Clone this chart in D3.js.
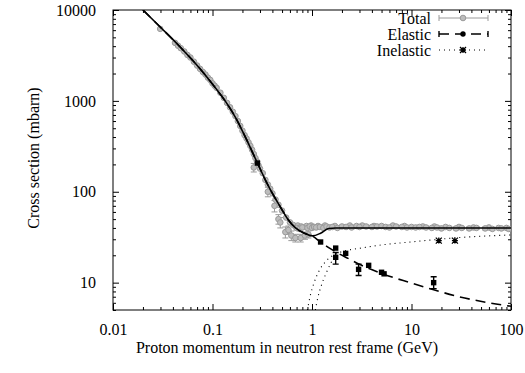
<!DOCTYPE html>
<html>
<head>
<meta charset="utf-8">
<script src="https://cdn.jsdelivr.net/npm/d3@7"></script>
<style>
  body { margin: 0; background: #fff; }
  svg text { font-family: "Liberation Serif", "Times New Roman", Times, "DejaVu Serif", serif; font-size: 16px; fill: #000; }
</style>
</head>
<body>
<div id="chart"></div>
<script>
// chart size
var w = 525,
    h = 373,
    serif = "'Liberation Serif', 'Times New Roman', Times, 'DejaVu Serif', serif";

// ---- data: [momentum GeV, cross section mbarn] ----
var xTicks = [0.01, 0.1, 1, 10, 100];
var yTicks = [10, 100, 1000, 10000];

var totalCurve = [[0.02,10000],[0.0298,6500],[0.0473,3920],[0.0753,2245],[0.107,1390],[0.134,1000],
    [0.17,660],[0.214,400],[0.283,207],[0.364,116],[0.481,68],[0.579,49],[0.683,40],[0.84,35],
    [1.01,32.7],[1.22,35],[1.47,39.5],[1.73,40],[5,40],[20,40],[100,40]];

var elasticCurve = [[0.02,10000],[0.0298,6500],[0.0473,3920],[0.0753,2245],[0.107,1390],[0.134,1000],
    [0.17,660],[0.214,400],[0.283,207],[0.364,116],[0.481,68],[0.579,49],[0.683,40],[0.84,35],
    [1.01,32.5],[1.22,28],[1.5,24],[1.81,21.2],[2.3,18.5],[3.08,15.7],[5,12.6],[10,9.9],
    [16.4,8.4],[30,7.0],[60,6.0],[100,5.5]];

var inelasticCurve = [[0.9,5],[0.955,7],[1.05,10],[1.2,14],[1.4,17.5],[1.7,20.5],[2.2,22.5],
    [3.1,24],[5,26],[9.8,28],[31,31.4],[100,33.5]];
var inelasticCurve2 = [[1.08,5],[1.15,7],[1.25,9.5],[1.4,13],[1.55,16.5],[1.75,20.5]];

// total data, dense band (no visible error bars)
var totalBand = [[0.0298,6200],[0.042,4350],[0.045,4050],[0.048,3800],[0.052,3500],[0.056,3200],
    [0.06,3000],[0.065,2700],[0.07,2450],[0.075,2250],[0.08,2080],[0.085,1950],[0.09,1800],
    [0.095,1700],[0.1,1560],[0.105,1470],[0.11,1390],[0.12,1230],[0.13,1080],[0.14,950],[0.15,850],
    [0.16,760],[0.17,680],[0.18,600],[0.19,530],[0.2,470],[0.21,420],[0.22,385],[0.23,350],
    [0.24,320],[0.25,290],[0.26,260],[0.27,235],[0.28,215],[0.29,195],[0.3,180],[0.32,160],
    [0.34,135],[0.36,120],[0.38,108],[0.4,96],[0.43,82],[0.46,72],[0.5,62],[0.55,52],[0.6,46],
    [0.65,43],[0.72,42.5],[0.78,41.5],[0.88,42],[0.98,42.5],[1.15,42],[1.35,42.5],[1.7,42],
    [2.4,42.5],[3.2,42.5],[4.2,42],[6.5,42.5],[8.5,42],[13,41.5],[17,41.5],[22,41],[30,41],
    [42,40.5],[60,40.5],[75,40],[90,40]];

// total data with error bars: [p, sigma, low, high]
var totalErr = [[0.26,185,165,205],[0.36,100,88,112],[0.42,70,60,80],[0.46,50,44,56],
    [0.48,46,40,52],[0.54,36,31,41],[0.58,38,34,42],[0.62,33,29,37],[0.68,31,28,34],
    [0.77,31,28,34],[0.85,33,30,36],[0.92,34,31,37],
    [0.7,40,38,42],[0.75,39,37,41],[0.8,40.5,39,42],[0.9,40,38.5,41.5],[0.95,41.5,40,43],
    [1.0,40,38.5,41.5],[1.05,41,39.5,42.5],[1.1,40.5,39,42],[1.2,41,39.5,42.5],[1.3,40,38.5,41.5],
    [1.4,41.5,40,43],[1.5,40.5,39,42],[1.6,41,39.5,42.5],[1.8,40,38.5,41.5],[2.0,41.5,40,43],
    [2.2,41,39.5,42.5],[2.5,40.5,39,42],[2.8,42,40.5,43.5],[3.0,41,39.5,42.5],[3.5,41.5,40,43],
    [4.0,41,39.5,42.5],[4.5,41.5,40,43],[5,42,40.5,43.5],[5.5,41,39.5,42.5],[6,40.5,39,42],
    [7,41.5,40,43],[8,41,39.5,42.5],[9,40.5,39,42],[10,41,39.5,42.5],[11,40.5,39,42],
    [12,41,39.5,42.5],[14,40.5,39,42],[16,40,38.5,41.5],[18,40.5,39,42],[20,39.5,38,41],
    [24,40,38.5,41.5],[28,39.5,38,41],[32,40,38.5,41.5],[38,39.5,38,41],[45,40,38.5,41.5],
    [55,39.5,38,41],[65,39,37.5,40.5],[80,39.5,38,41],[95,39,37.5,40.5]];

// one total point with a wide momentum bin: [p, sigma, pLow, pHigh]
var totalWide = [[1.0,40,0.64,1.5]];

// elastic data: [p, sigma, low, high]
var elasticData = [[0.283,207,207,207],[1.22,28,28,28],[1.73,24,24,24],[1.73,19,16,21.5],
    [2.18,21,21,21],[2.94,14,12,16],[3.71,15.5,15.5,15.5],[5.0,13,13,13],[5.3,12.5,12.5,12.5],
    [16.7,10,8.6,11.6]];

// inelastic data
var inelasticData = [[18.8,29],[27.3,29]];

var legendNames = ["Total", "Elastic", "Inelastic"];

// ---- scales ----
var xScale = d3.scaleLog().domain([0.01, 100]).range([113, 511]);
var yScale = d3.scaleLog().domain([5, 10000]).range([310, 10]);

var svg = d3.select("#chart").append("svg")
    .attr("width", w)
    .attr("height", h)
    .attr("font-family", serif);

// minor ticks for log axes
var xMinor = [], yMinor = [];
[0.01, 0.1, 1, 10].forEach(function (d) {
    for (var k = 2; k < 10; k++) xMinor.push(d * k);
});
[1, 10, 100, 1000].forEach(function (d) {
    for (var k = 2; k < 10; k++) if (d * k >= 5) yMinor.push(d * k);
});

function drawAxis(axis, tr) {
    var g = svg.append("g").attr("transform", tr).call(axis);
    g.attr("font-family", serif).attr("font-size", 16);
    g.select(".domain").remove();
    g.selectAll("line").attr("stroke", "#000");
    g.selectAll("text").attr("fill", "#000");
    return g;
}

// bottom / top
drawAxis(d3.axisBottom(xScale).tickValues(xTicks).tickSize(-6).tickPadding(14)
    .tickFormat(function (d) { return d >= 1 ? d3.format("d")(d) : String(d); }), "translate(0,310)");
drawAxis(d3.axisBottom(xScale).tickValues(xMinor).tickSize(-3).tickFormat(""), "translate(0,310)");
drawAxis(d3.axisTop(xScale).tickValues(xTicks).tickSize(-6).tickFormat(""), "translate(0,10)");
drawAxis(d3.axisTop(xScale).tickValues(xMinor).tickSize(-3).tickFormat(""), "translate(0,10)");
// left / right
drawAxis(d3.axisLeft(yScale).tickValues(yTicks).tickSize(-6).tickPadding(17)
    .tickFormat(d3.format("d")), "translate(113,0)");
drawAxis(d3.axisLeft(yScale).tickValues(yMinor).tickSize(-3).tickFormat(""), "translate(113,0)");
drawAxis(d3.axisRight(yScale).tickValues(yTicks).tickSize(-6).tickFormat(""), "translate(511,0)");
drawAxis(d3.axisRight(yScale).tickValues(yMinor).tickSize(-3).tickFormat(""), "translate(511,0)");

svg.append("rect")
    .attr("x", 113).attr("y", 10)
    .attr("width", 511 - 113).attr("height", 300)
    .attr("fill", "none").attr("stroke", "#000").attr("stroke-width", 1);

// axis titles
svg.append("text")
    .attr("x", 287).attr("y", 353)
    .attr("text-anchor", "middle")
    .text("Proton momentum in neutron rest frame (GeV)");
svg.append("text")
    .attr("transform", "translate(39,158) rotate(-90)")
    .attr("text-anchor", "middle")
    .text("Cross section (mbarn)");

var plot = svg.append("g");
svg.append("defs").append("clipPath").attr("id", "clip")
    .append("rect").attr("x", 113).attr("y", 10).attr("width", 398).attr("height", 300);
plot.attr("clip-path", "url(#clip)");

var grey = "#9a9a9a";

// total data: error bars then circles
plot.selectAll(".terr")
    .data(totalErr)
    .enter()
    .append("path")
    .attr("d", function (d) {
        var x = xScale(d[0]), y0 = yScale(d[2]), y1 = yScale(d[3]);
        return "M" + x + "," + y0 + "V" + y1 + "M" + (x - 3) + "," + y0 + "h6M" + (x - 3) + "," + y1 + "h6";
    })
    .attr("stroke", grey).attr("fill", "none").attr("stroke-width", 1);

plot.selectAll(".twide")
    .data(totalWide)
    .enter()
    .append("line")
    .attr("x1", function (d) { return xScale(d[2]); })
    .attr("x2", function (d) { return xScale(d[3]); })
    .attr("y1", function (d) { return yScale(d[1]); })
    .attr("y2", function (d) { return yScale(d[1]); })
    .attr("stroke", "#777").attr("stroke-width", 1.2);

plot.selectAll(".tband")
    .data(totalBand.concat(totalErr))
    .enter()
    .append("circle")
    .attr("cx", function (d) { return xScale(d[0]); })
    .attr("cy", function (d) { return yScale(d[1]); })
    .attr("r", 2.8)
    .attr("fill", "#bdbdbd")
    .attr("stroke", grey)
    .attr("stroke-width", 1);

// curves
var line = d3.line()
    .x(function (d) { return xScale(d[0]); })
    .y(function (d) { return yScale(d[1]); })
    .curve(d3.curveMonotoneX);

plot.append("path").datum(inelasticCurve).attr("d", line)
    .attr("fill", "none").attr("stroke", "#000").attr("stroke-width", 1.1)
    .attr("stroke-dasharray", "1,4");
plot.append("path").datum(inelasticCurve2).attr("d", line)
    .attr("fill", "none").attr("stroke", "#000").attr("stroke-width", 1.1)
    .attr("stroke-dasharray", "1,4");
plot.append("path").datum(elasticCurve).attr("d", line)
    .attr("fill", "none").attr("stroke", "#000").attr("stroke-width", 1.6)
    .attr("stroke-dasharray", "10,6");
plot.append("path").datum(totalCurve).attr("d", line)
    .attr("fill", "none").attr("stroke", "#000").attr("stroke-width", 1.6);

// elastic data
plot.selectAll(".eerr")
    .data(elasticData.filter(function (d) { return d[2] !== d[3]; }))
    .enter()
    .append("path")
    .attr("d", function (d) {
        var x = xScale(d[0]), y0 = yScale(d[2]), y1 = yScale(d[3]);
        return "M" + x + "," + y0 + "V" + y1 + "M" + (x - 3) + "," + y0 + "h6M" + (x - 3) + "," + y1 + "h6";
    })
    .attr("stroke", "#000").attr("fill", "none").attr("stroke-width", 1.4);
plot.selectAll(".edot")
    .data(elasticData)
    .enter()
    .append("rect")
    .attr("x", function (d) { return xScale(d[0]) - 2.7; })
    .attr("y", function (d) { return yScale(d[1]) - 2.7; })
    .attr("width", 5.4).attr("height", 5.4)
    .attr("fill", "#000");

// inelastic data (asterisks)
function star(x, y, s) {
    return "M" + (x - s) + "," + y + "h" + 2 * s + "M" + x + "," + (y - s) + "v" + 2 * s +
        "M" + (x - s) + "," + (y - s) + "l" + 2 * s + "," + 2 * s +
        "M" + (x - s) + "," + (y + s) + "l" + 2 * s + "," + (-2 * s);
}
plot.selectAll(".istar")
    .data(inelasticData)
    .enter()
    .append("path")
    .attr("d", function (d) { return star(xScale(d[0]), yScale(d[1]), 3); })
    .attr("stroke", "#000").attr("stroke-width", 1.3).attr("fill", "none");

// legend
var legY = [18, 34, 50];
var leg = svg.append("g");
legendNames.forEach(function (name, i) {
    leg.append("text")
        .attr("x", 431).attr("y", legY[i])
        .attr("dy", "0.35em")
        .attr("text-anchor", "end")
        .text(name);
});
// Total sample
leg.append("path")
    .attr("d", "M439," + legY[0] + "H488M439," + (legY[0] - 3) + "v6M488," + (legY[0] - 3) + "v6")
    .attr("stroke", grey).attr("stroke-width", 1).attr("fill", "none");
leg.append("circle").attr("cx", 463).attr("cy", legY[0]).attr("r", 2.8)
    .attr("fill", "#bdbdbd").attr("stroke", grey);
// Elastic sample
leg.append("path")
    .attr("d", "M439," + legY[1] + "H488")
    .attr("stroke", "#000").attr("stroke-width", 1.6).attr("stroke-dasharray", "10,6")
    .attr("fill", "none");
leg.append("path")
    .attr("d", "M439," + (legY[1] - 3) + "v6M488," + (legY[1] - 3) + "v6")
    .attr("stroke", "#000").attr("stroke-width", 1.4);
leg.append("circle").attr("cx", 463).attr("cy", legY[1]).attr("r", 2.7).attr("fill", "#000");
// Inelastic sample
leg.append("path")
    .attr("d", "M439," + legY[2] + "H488")
    .attr("stroke", "#000").attr("stroke-width", 1.1).attr("stroke-dasharray", "1,4")
    .attr("fill", "none");
leg.append("path")
    .attr("d", star(463, legY[2], 3))
    .attr("stroke", "#000").attr("stroke-width", 1.3).attr("fill", "none");
</script>
</body>
</html>
